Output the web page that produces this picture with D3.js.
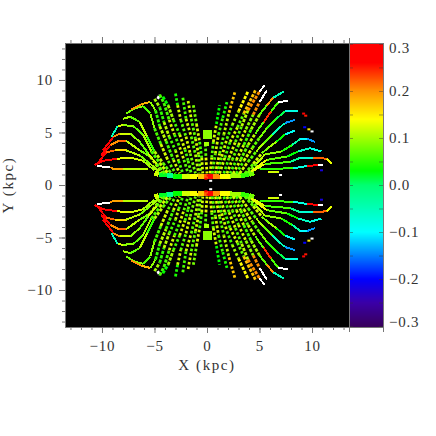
<!DOCTYPE html>
<html><head><meta charset="utf-8">
<script src="https://cdn.jsdelivr.net/npm/d3@7"></script>
<style>html,body{margin:0;padding:0;background:#fff}svg{display:block}text{font-family:"Liberation Serif",serif;fill:#333;font-size:15px;letter-spacing:.8px}</style>
</head><body><svg id="c" width="436" height="436"></svg>
<script>
// Each ridge: knots of [x kpc, y kpc, value]
const ridgesRight = [
 [[.3,1.1,.1],[.45,2.6,.13],[.6,4.1,.07],[.9,5.8,.12],[1.2,7.6,.03]],
 [[.5,1.1,.12],[.8,3,.07],[1.1,4.8,.12],[1.5,6.4,.06],[1.9,7.9,.04]],
 [[.8,1.1,.08],[1.2,3,.13],[1.6,4.8,.07],[2.1,6.9,.11],[2.7,9,.17]],
 [[1,1.1,.12],[1.4,2.7,.07],[1.9,4.4,.12],[2.4,5.7,.06],[3,7,.1],[3.9,8.9,.14]],
 [[1.2,1.1,.07],[1.7,2.6,.12],[2.2,4.1,.06],[2.9,5.5,.12],[3.5,6.8,.07],[4.6,9,.17]],
 [[1.6,1.1,.12],[2.1,2.6,.06],[2.7,4.1,.12],[3.3,5.6,.07],[3.9,7.1,.11],[5,8.9,.2],[5.5,9.5,.35]],
 [[1.9,1.1,.06],[2.4,2.4,.12],[3,3.8,.07],[3.7,5.3,.12],[4.4,6.7,.09],[5,7.9,.2],[5.7,9,.35]],
 [[2.2,1.1,.12],[2.8,2.4,.06],[3.5,3.8,.12],[4.2,5.3,.06],[5,6.7,.1],[5.7,7.6,.07],[6.3,8.3,.2],[7.3,8.9,-.05]],
 [[2.5,1.1,.07],[3.2,2.4,.12],[3.9,3.8,.07],[4.6,4.9,.11],[5.4,6,.07],[6.1,7,.24],[6.8,7.9,.06],[7.7,8,.35]],
 [[2.8,1.1,.12],[3.5,2.3,.06],[4.3,3.5,.12],[5,4.5,.07],[5.7,5.4,.08],[6.6,6.3,.05],[7.4,7,.01],[8.7,7,-.08]],
 [[3.1,1.1,.08],[3.9,2.2,.12],[4.7,3.2,.07],[5.4,4,.1],[6.2,4.8,.07],[7.4,5.9,-.05],[8.4,6.2,-.14]],
 [[3.6,1.1,.11],[4.4,2,.07],[5.2,3,.12],[5.9,3.6,.08],[6.6,4.1,.1],[7.4,4.8,.03],[8.4,5.2,-.09]],
 [[3.9,1.2,.13],[4.7,2,.08],[5.5,2.9,.11],[7.1,3.2,.09],[8.1,3.8,.04],[8.9,4.4,-.04],[9.5,4.4,-.1],[10.3,4.1,-.14]],
 [[4.2,1.3,.12],[5.7,2.4,.13],[7.6,2.7,.07],[8.7,3.2,.03],[9.8,3.5,-.06],[10.9,3.2,-.08]],
 [[4.5,1.4,.13],[5.5,2,.13],[7.9,2.2,.06],[8.9,2.6,-.02],[10.1,2.6,-.07],[11.4,2.5,.22],[11.9,2,.13]],
 [[5,1.5,.1],[8.2,1.6,.05],[9.5,1.8,-.08],[10.6,1.9,.27],[11,1.95,.35]],
 [[5.8,1.2,.13],[6.9,1.2,.12]]
];
const ridgesLeft = [
 [[-10.5,1.8,.35],[-9.2,1.7,.35],[-9,1.55,.2],[-8,1.5,.19],[-5.6,1.5,.11]],
 [[-10.7,1.9,.2],[-9.9,2.3,.27],[-8.6,2.5,.27],[-7.2,2.6,.13],[-6.1,2.3,.12],[-5,1.4,.1]],
 [[-10.3,2.2,.24],[-9.6,3.1,.27],[-8.8,3.3,.22],[-7.7,3.3,.16],[-6.4,2.8,.11],[-5.5,2.1,.08],[-4.6,1.3,.1]],
 [[-10.1,2.8,.02],[-9.2,3.8,.27],[-8.4,4.2,.2],[-7.7,4.2,.22],[-6.4,3.3,.11],[-5.4,2.7,.08],[-4.3,1.2,.11]],
 [[-9.9,3.3,.1],[-8.9,4.6,.26],[-8.3,4.9,.2],[-7.3,4.9,.12],[-6.4,4.1,.09],[-5.6,3,.07],[-4.8,2,.12],[-4,1.1,.07]],
 [[-9.1,4.6,-.03],[-8.5,5.6,-.05],[-8,5.7,.12],[-7,5.6,.09],[-6.1,4.8,.07],[-5.3,3.2,.1],[-4.5,2.1,.06],[-3.7,1.1,.12]],
 [[-8,6.3,.17],[-7.3,6.5,.1],[-6.4,6,.07],[-5.7,4.6,.11],[-5,3.2,.05],[-4.2,2.1,.11],[-3.4,1.1,.07]],
 [[-7.7,6.8,.25],[-6.9,7.3,.08],[-6.1,7.5,.09],[-5.4,6.8,.06],[-5,5.4,.09],[-4.4,3.9,.06],[-3.7,2.3,.12],[-3,1.1,.07]],
 [[-7.2,7.2,.35],[-6.2,7.7,.2],[-5.4,7.9,.18],[-4.9,7.1,.09],[-4.5,5.6,.05],[-3.9,4.2,.11],[-3.2,2.4,.06],[-2.6,1.1,.12]],
 [[-5,8.2,.2],[-4.5,7.4,.1],[-4.1,6,.05],[-3.6,4.6,.11],[-3,3.3,.06],[-2.7,2.3,.11],[-2.3,1.1,.06]],
 [[-4.7,8.2,.35],[-4.5,8.6,.35],[-4.1,7.8,.06],[-3.6,6.2,.06],[-3.1,4.8,.12],[-2.6,3.6,.06],[-2.2,2.4,.12],[-1.8,1.1,.07]],
 [[-4.2,8.4,.27],[-3.7,7.6,.03],[-3.2,6.2,.1],[-2.6,4.8,.06],[-2.1,3.4,.12],[-1.8,2.3,.06],[-1.5,1.1,.07]],
 [[-3,8.7,-.2],[-2.8,7.6,.04],[-2.5,6.2,.12],[-2,4.6,.07],[-1.6,3,.12],[-1.1,1.1,.08]],
 [[-2.3,8.3,.14],[-2,6.3,.06],[-1.5,4.6,.12],[-1.1,2.9,.07],[-.8,1.1,.11]],
 [[-1.8,8,.08],[-1.5,6.3,.12],[-1.1,4.4,.07],[-.8,2.9,.12],[-.6,1.1,.08]],
 [[-1.3,7.6,.04],[-1,5.8,.08],[-.7,4.1,.12],[-.5,2.6,.06],[-.4,1.1,.12]],
 [[-.15,3.9,.1],[-.1,2.6,.07],[0,1.1,.13]]
];
const bandKnots = [
 [-5,1.15,.12],[-4.6,1,.02],[-3.8,.95,-.02],[-3.2,.85,.03],[-2.4,.85,.12],
 [-1.6,.85,.14],[-.9,.8,.17],[-.3,.8,.22],[.1,.8,.27],[.6,.8,.2],[1.2,.85,.14],[2.2,.85,.1],
 [3.2,.9,.05],[4,1,.08],[4.5,1.15,.2]
];
const stumpKnots = [[-.4,4.8,.09],[.5,4.8,.1]];
const stumpBaseKnots = [[-.25,3.9,.07],[.2,3.9,.1]];
const spotValues = [
 [9.2,6.8,.28],[9.4,6.6,.25],[9.3,5.5,-.2],[9.7,5.3,.15],[10,5.1,.35],[10.9,1.4,-.22],[7,.95,.35],
 [.35,.4,.35],[-.1,.6,.3],[.1,.9,.3]
];
const colorStopValues = [-.302,-.25,-.2,-.1,0,.03,.14,.2,.26,.302];
const colorStopColors = ["#38005a","#3a00a8","#0000ff","#00ffff","#00ff70","#00ff00","#ffff00","#ff9000","#ff0000","#ff0000"];
const xMajorTicks = [-10,-5,0,5,10];
const yMajorTicks = [-10,-5,0,5,10];
const barMajorTicks = [-.3,-.2,-.1,0,.1,.2,.3];
const xLabel = "X (kpc)", yLabel = "Y (kpc)";

const L=65,R=349,T=43,B=327,BR=383;
const svg=d3.select("#c");
const x=d3.scaleLinear().domain([-13.52,13.52]).range([L,R]);
const y=d3.scaleLinear().domain([-13.52,13.52]).range([B,T]);
const vy=d3.scaleLinear().domain([-.302,.302]).range([B,T]);
const ramp=d3.scaleLinear().domain(colorStopValues).range(colorStopColors).clamp(true);
const col=v=>Math.abs(v)>.305?"#fff":ramp(v);

svg.append("rect").attr("x",L).attr("y",T).attr("width",R-L).attr("height",B-T).attr("fill","#000");
const marks=svg.append("g").attr("fill","none");

[1,-1].forEach(s=>{
  const line=d3.line().x(d=>x(d[0])).y(d=>y(s*d[1]));
  d3.pairs(bandKnots).forEach(([a,b])=>{
    marks.append("path").attr("d",line([a,b])).attr("stroke",col(a[2])).attr("stroke-width",5).attr("shape-rendering","crispEdges");
  });
  ridgesRight.concat(ridgesLeft).forEach(r=>{
    d3.pairs(r).forEach(([a,b])=>{
      const mx=Math.abs(a[0]+b[0])/2, slope=Math.abs((b[1]-a[1])/(b[0]-a[0]||.01));
      const inner=mx<5 && slope>.8;
      marks.append("path").attr("d",line([a,b])).attr("stroke",col(b[2]))
        .attr("stroke-width",inner?2.8:2)
        .attr("shape-rendering",inner?"geometricPrecision":"crispEdges")
        .attr("stroke-dasharray",inner?(mx<3.4?"2.6 2":"3.2 1.4"):null);
    });
  });
  marks.append("path").attr("d",line(stumpKnots)).attr("stroke",col(stumpKnots[0][2])).attr("stroke-width",9).attr("shape-rendering","crispEdges");
  marks.append("path").attr("d",line(stumpBaseKnots)).attr("stroke",col(stumpBaseKnots[1][2])).attr("stroke-width",4).attr("shape-rendering","crispEdges");
  marks.selectAll(null).data(spotValues).join("rect")
    .attr("x",d=>x(d[0])-1.5).attr("y",d=>y(s*d[1])-1).attr("width",3).attr("height",2)
    .attr("fill",d=>col(d[2]));
});

// colour bar
const barCells=d3.range(T,B).map(p=>vy.invert(p+.5));
svg.append("g").attr("shape-rendering","crispEdges").selectAll("rect").data(barCells).join("rect")
  .attr("x",R).attr("width",BR-R).attr("y",d=>Math.floor(vy(d))).attr("height",1).attr("fill",d=>ramp(d));

const axisStyle=g=>{g.selectAll("line,path").attr("stroke","#777");g.selectAll("text").attr("fill","#333").style("font-family",'"Liberation Serif",serif').style("font-size","15px");};
const minorOf=(dom,step)=>d3.range(Math.ceil(dom[0]/step),Math.floor(dom[1]/step)+1).map(i=>i*step);
const xMinor=minorOf(x.domain(),1), yMinor=minorOf(y.domain(),1);

const ax=(gen,tr)=>svg.append("g").attr("transform",tr).call(gen).call(axisStyle);
ax(d3.axisBottom(x).tickValues(xMinor).tickSize(3).tickSizeOuter(0).tickFormat(""),`translate(0,${B})`);
ax(d3.axisTop(x).tickValues(xMinor).tickSize(3).tickSizeOuter(0).tickFormat(""),`translate(0,${T})`);
ax(d3.axisLeft(y).tickValues(yMinor).tickSize(3).tickSizeOuter(0).tickFormat(""),`translate(${L},0)`);
ax(d3.axisBottom(x).tickValues(xMajorTicks).tickSize(6).tickSizeOuter(0).tickPadding(7).tickFormat(d3.format("d")),`translate(0,${B})`);
ax(d3.axisLeft(y).tickValues(yMajorTicks).tickSize(6).tickSizeOuter(0).tickPadding(6).tickFormat(d3.format("d")),`translate(${L},0)`);
ax(d3.axisTop(x).tickValues(xMajorTicks).tickSize(6).tickSizeOuter(0).tickFormat(""),`translate(0,${T})`);

// colour bar frame and ticks
const barMinor=d3.range(-6,7).map(i=>i*.05);
ax(d3.axisRight(vy).tickValues(barMinor).tickSize(4).tickSizeOuter(0).tickFormat(""),`translate(${R},0)`)
  .selectAll("line").attr("stroke","#333").attr("opacity",.45);
ax(d3.axisLeft(vy).tickValues(barMinor).tickSize(4).tickSizeOuter(0).tickFormat(""),`translate(${BR},0)`)
  .selectAll("line").attr("stroke","#333").attr("opacity",.45);
const fr=svg.append("g").attr("stroke","#777").attr("shape-rendering","crispEdges");
fr.append("line").attr("x1",R).attr("x2",BR).attr("y1",T).attr("y2",T);
fr.append("line").attr("x1",R).attr("x2",BR).attr("y1",B).attr("y2",B);
fr.append("line").attr("x1",BR).attr("x2",BR).attr("y1",T).attr("y2",B+5);
fr.append("line").attr("x1",R).attr("x2",R).attr("y1",T-5).attr("y2",B+5);

svg.selectAll(".bl").data(barMajorTicks).join("text").attr("class","bl")
  .attr("x",389).attr("y",d=>vy(d)+(d>.25?4:d<-.25?-4:0)).attr("dy","0.32em")
  .text(d=>d3.format(".1f")(d));

svg.append("text").attr("x",207).attr("y",370).attr("text-anchor","middle").style("letter-spacing","1.6px").text(xLabel);
svg.append("text").attr("transform","translate(13,185) rotate(-90)").attr("text-anchor","middle").style("letter-spacing","1.6px").text(yLabel);
</script></body></html>
